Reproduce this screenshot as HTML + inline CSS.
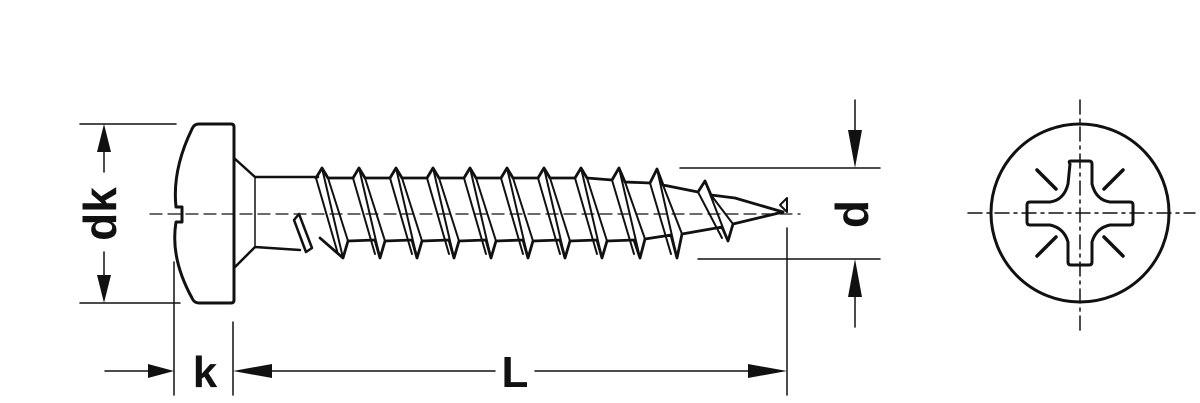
<!DOCTYPE html>
<html><head><meta charset="utf-8"><style>html,body{margin:0;padding:0;background:#fff}svg{display:block}</style></head>
<body>
<svg width="1200" height="403" viewBox="0 0 1200 403" xmlns="http://www.w3.org/2000/svg">
<g fill="none" stroke="#111" stroke-linecap="round" stroke-linejoin="round">
<line x1="150" y1="214" x2="800" y2="214" stroke-width="1.3" stroke-dasharray="12,6"/>
<path d="M199,124 L231,124 Q234,124 234,127 L234,300 Q234,303 231,303 L199,303 Q194,303 192,298 Q170,258 176,222 L182,222 L182,207 L176,207 Q172,170 192,129 Q194,124 199,124 Z" stroke-width="3"/>
<path d="M234,158 L255,177 L318,177" stroke-width="2.5"/>
<path d="M234,268 L255,247 L300,250" stroke-width="2.5"/>
<line x1="255" y1="177" x2="255" y2="247" stroke-width="1.5"/>
<path d="M294,220 L299,214 L312,248 L306,252 Z" stroke-width="2.5"/>
<g stroke-width="2.8">
<path d="M316,178 L322,168 L328,178 L353,178 L359,168 L365,178 L390,178 L396,168 L402,178 L427,178 L433,168 L439,178 L464,178 L470,168 L476,178 L501,178 L507,168 L513,178 L538,178 L544,168 L550,178 L575,178 L581,168 L587,178 L612,180 L619,168 L625,182 L650,183 L657,169 L663,185 L698,192 L705,181 L711,195 L735,198 L783,212"/>
<path d="M320,238 L343,258 L348,241 L375,240 L380,258 L385,241 L412,240 L417,258 L422,241 L449,240 L454,258 L459,241 L486,240 L491,258 L496,241 L523,240 L528,258 L533,241 L560,240 L565,258 L570,241 L597,240 L602,258 L607,241 L634,240 L640,258 L645,239 L671,235 L677,258 L682,234 L722,227 L728,241 L733,224 L783,212"/>
</g>
<g stroke-width="2">
<path d="M316,178 L338,254 M322,168 L343,258 M328,178 L348,241"/>
<path d="M353,178 L375,254 M359,168 L380,258 M365,178 L385,241"/>
<path d="M390,178 L412,254 M396,168 L417,258 M402,178 L422,241"/>
<path d="M427,178 L449,254 M433,168 L454,258 M439,178 L459,241"/>
<path d="M464,178 L486,254 M470,168 L491,258 M476,178 L496,241"/>
<path d="M501,178 L523,254 M507,168 L528,258 M513,178 L533,241"/>
<path d="M538,178 L560,254 M544,168 L565,258 M550,178 L570,241"/>
<path d="M575,178 L597,254 M581,168 L602,258 M587,178 L607,241"/>
<path d="M612,180 L634,254 M619,168 L640,258 M625,182 L645,239"/>
<path d="M650,183 L671,254 M657,169 L677,258 M663,185 L682,234"/>
<path d="M698,192 L722,238 M705,181 L728,241 M711,195 L733,224"/>
<path d="M780,205 L787,198 L787,212 Z"/>
</g>
<g stroke-width="1.5">
<line x1="80" y1="124" x2="176" y2="124"/>
<line x1="80" y1="303" x2="180" y2="303"/>
<line x1="104" y1="150" x2="104" y2="172"/>
<line x1="104" y1="252" x2="104" y2="280"/>
<line x1="174" y1="262" x2="174" y2="395"/>
<line x1="233" y1="322" x2="233" y2="395"/>
<line x1="105" y1="371" x2="150" y2="371"/>
<line x1="270" y1="371" x2="495" y2="371"/>
<line x1="535" y1="371" x2="750" y2="371"/>
<line x1="787" y1="228" x2="787" y2="395"/>
<line x1="680" y1="168" x2="880" y2="168"/>
<line x1="698" y1="259" x2="880" y2="259"/>
<line x1="855" y1="100" x2="855" y2="130"/>
<line x1="855" y1="295" x2="855" y2="327"/>
</g>
</g>
<g fill="#111">
<polygon points="104,124 97,152 111,152"/>
<polygon points="104,303 97,275 111,275"/>
<polygon points="174,371 148,364 148,378"/>
<polygon points="233,371 272,364 272,378"/>
<polygon points="787,371 748,364 748,378"/>
<polygon points="855,168 848,130 862,130"/>
<polygon points="855,259 848,297 862,297"/>
</g>
<g font-family="Liberation Sans, sans-serif" font-weight="bold" fill="#111">
<text x="104" y="214" font-size="46" text-anchor="middle" dominant-baseline="middle" transform="rotate(-90 104 214)">dk</text>
<text x="205" y="387" font-size="44" text-anchor="middle">k</text>
<text x="515" y="387" font-size="44" text-anchor="middle">L</text>
<text x="856" y="214" font-size="46" text-anchor="middle" dominant-baseline="middle" transform="rotate(-90 856 214)">d</text>
</g>
<g fill="none" stroke="#111" stroke-linecap="round">
<circle cx="1080" cy="213" r="89" stroke-width="3"/>
<line x1="968" y1="213" x2="1195" y2="213" stroke-width="1.5" stroke-dasharray="14,5,3,5"/>
<line x1="1080" y1="100" x2="1080" y2="330" stroke-width="1.5" stroke-dasharray="14,5,3,5"/>
<path d="M1070,164 Q1068,161 1071,161 L1089,161 Q1092,161 1092,164 L1092,184 Q1096,200 1110,202 L1130,202 Q1133,202 1133,205 L1133,222 Q1133,225 1130,225 L1110,225 Q1096,228 1092,242 L1092,262 Q1092,265 1089,265 L1071,265 Q1068,265 1068,262 L1068,242 Q1064,228 1050,225 L1030,225 Q1027,225 1027,222 L1027,205 Q1027,202 1030,202 L1050,202 Q1064,200 1068,184 Z" stroke-width="3"/>
<g stroke-width="3.5">
<line x1="1037" y1="170" x2="1056" y2="189"/>
<line x1="1123" y1="170" x2="1104" y2="189"/>
<line x1="1037" y1="256" x2="1056" y2="237"/>
<line x1="1123" y1="256" x2="1104" y2="237"/>
</g>
</g>
</svg>
</body></html>
